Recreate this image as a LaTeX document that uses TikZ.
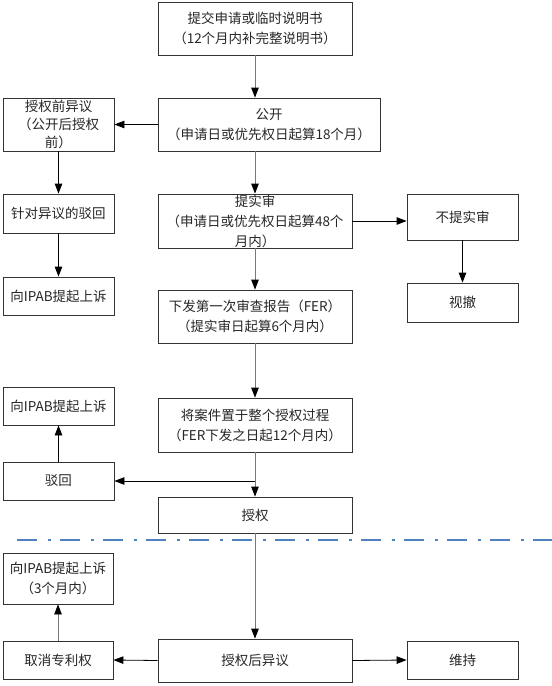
\documentclass[tikz,border=0pt]{standalone}
\usepackage{fontspec}
\setmainfont{Noto Sans CJK SC}
\usetikzlibrary{arrows.meta}
\definecolor{sepblue}{RGB}{79,129,189}
\definecolor{linegray}{RGB}{120,120,120}
\tikzset{
  box/.style={draw=black!80, line width=0.8pt, inner sep=0pt, align=center,
    font=\fontsize{13.5}{20}\selectfont, text=black!85},
  arr/.style={line width=0.8pt, draw=black, -{Triangle[length=10pt,width=7.5pt,color=black]}},
  garr/.style={line width=0.8pt, draw=linegray, -{Triangle[length=10pt,width=7.5pt,color=black]}},
  sep/.style={draw=sepblue, line width=2.6pt, dash pattern=on 20pt off 11pt on 3pt off 9pt}
}
\begin{document}
\begin{tikzpicture}[x=1pt,y=-1pt]
\useasboundingbox (0,0) rectangle (552,686);
% main column
\node[box, minimum width=194, minimum height=53] (b1) at (255,28.5) {提交申请或临时说明书\\（12个月内补完整说明书）};
\node[box, minimum width=222, minimum height=53] (pub) at (269,124.5) {公开\\（申请日或优先权日起算18个月）};
\node[box, minimum width=194, minimum height=54] (exam) at (255,221) {提实审\\（申请日或优先权日起算48个\\月内）};
\node[box, minimum width=194, minimum height=53] (fer) at (255,316.5) {下发第一次审查报告（FER）\\（提实审日起算6个月内）};
\node[box, minimum width=194, minimum height=54] (hold) at (255,425) {将案件置于整个授权过程\\（FER下发之日起12个月内）};
\node[box, minimum width=194, minimum height=36] (grant) at (255,515) {授权};
\node[box, minimum width=194, minimum height=43] (post) at (255,660.5) {授权后异议};
% left column
\node[box, minimum width=111, minimum height=53, font=\fontsize{13.5}{18}\selectfont] (pre) at (58.5,124.5) {授权前异议\\（公开后授权\\前）};
\node[box, minimum width=111, minimum height=39] (rej1) at (58.5,213.5) {针对异议的驳回};
\node[box, minimum width=111, minimum height=38] (app1) at (58.5,296) {向IPAB提起上诉};
\node[box, minimum width=111, minimum height=38] (app2) at (58.5,406) {向IPAB提起上诉};
\node[box, minimum width=111, minimum height=38] (rej2) at (58.5,481) {驳回};
\node[box, minimum width=110, minimum height=51] (app3) at (58,578.5) {向IPAB提起上诉\\（3个月内）};
\node[box, minimum width=110, minimum height=38] (revoke) at (58,660) {取消专利权};
% right column
\node[box, minimum width=111, minimum height=46] (noexam) at (462.5,217) {不提实审};
\node[box, minimum width=111, minimum height=39] (wd) at (462.5,302.5) {视撤};
\node[box, minimum width=111, minimum height=38] (keep) at (462.5,660) {维持};
% separator
\coordinate (sepL) at (17,540);
\coordinate (sepR) at (552,540);
\draw[sep] (sepL) -- (sepR);
% connectors
\draw[garr] (b1.south) -- (b1.south |- pub.north);
\draw[arr] (pub.west) -- (pre.east);
\draw[garr] (exam.north |- pub.south) -- (exam.north);
\draw[arr] (pre.south) -- (rej1.north);
\draw[arr] (rej1.south) -- (app1.north);
\draw[arr] (exam.east) -- (exam.east -| noexam.west);
\draw[arr] (noexam.south) -- (wd.north);
\draw[garr] (exam.south) -- (fer.north);
\draw[garr] (fer.south) -- (hold.north);
\draw[garr] (hold.south) -- (grant.north);
\coordinate (br) at (hold.south |- rej2.east);
\draw[arr] (br) -- (rej2.east);
\draw[arr] (rej2.north) -- (app2.south);
\draw[garr] (grant.south) -- (post.north);
\draw[arr] (post.west) -- (revoke.east);
\draw[arr] (post.east) -- (keep.west);
\draw[garr] (revoke.north) -- (app3.south);
\end{tikzpicture}
\end{document}
